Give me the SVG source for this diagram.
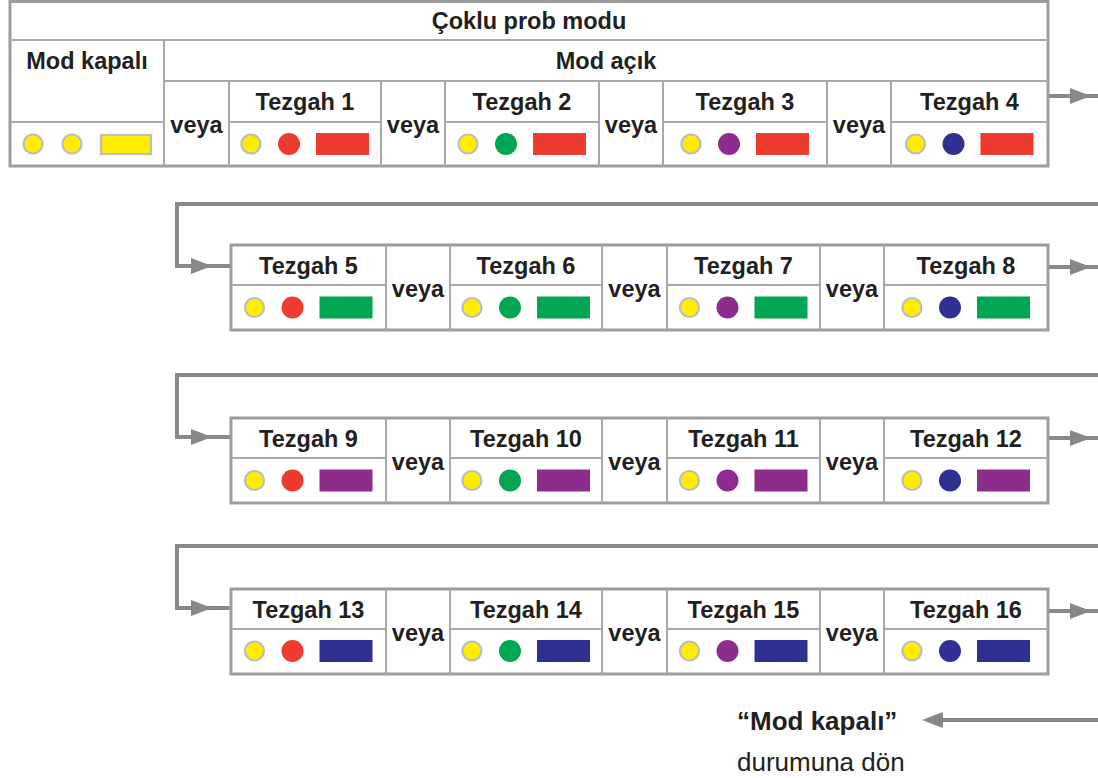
<svg xmlns="http://www.w3.org/2000/svg" xmlns:xlink="http://www.w3.org/1999/xlink" width="1098" height="778" viewBox="0 0 1098 778">
  <style>
    .frame { fill: #ffffff; stroke: #9c9c9c; stroke-width: 3; }
    .grid { fill: none; stroke: #a8a8a8; stroke-width: 2; }
    .lbl { font-family: "Liberation Sans", Arial, Helvetica, sans-serif; font-weight: bold; font-size: 23.5px; fill: #231f20; text-anchor: middle; }
    .note { font-family: "Liberation Sans", Arial, Helvetica, sans-serif; font-size: 26px; fill: #231f20; }
    .note-b { font-weight: bold; }
    .conn { fill: none; stroke: #87888a; stroke-width: 4; }
    .y { fill: #ffed00; stroke: #bdbdbd; stroke-width: 2.2; }
    .r { fill: #ee3b2f; }
    .g { fill: #00a651; }
    .p { fill: #8e2c8e; }
    .b { fill: #2e3192; }
  </style>
  <defs>
    <!-- arrowhead, tip at origin, pointing right -->
    <path id="ah" d="M0 0L-21 -8L-21 8Z" fill="#87888a"/>
    <!-- frame of one 4-station row (rows 2..4), origin at the row top -->
    <g id="rowFrame">
      <rect class="frame" x="231" y="0" width="817" height="85"/>
      <path class="grid" d="M231 40H386M450 40H602M667 40H820M884 40H1048M386 0V85M450 0V85M602 0V85M667 0V85M820 0V85M884 0V85"/>
    </g>
  </defs>

  <rect width="1098" height="778" fill="#ffffff"/>

  <!-- connectors -->
  <g id="connectors">
    <path class="conn" d="M1048 96H1098"/>
    <path class="conn" d="M1098 204H177V266H231"/>
    <path class="conn" d="M1048 267H1098"/>
    <path class="conn" d="M1098 375H177V437H231"/>
    <path class="conn" d="M1048 438H1098"/>
    <path class="conn" d="M1098 546H177V608H232"/>
    <path class="conn" d="M1048 611H1098"/>
    <path class="conn" d="M1098 720H930"/>
    <use xlink:href="#ah" x="1091" y="96"/>
    <use xlink:href="#ah" x="212" y="266"/>
    <use xlink:href="#ah" x="1091" y="267"/>
    <use xlink:href="#ah" x="212" y="437"/>
    <use xlink:href="#ah" x="1091" y="438"/>
    <use xlink:href="#ah" x="212" y="608"/>
    <use xlink:href="#ah" x="1091" y="611"/>
    <use xlink:href="#ah" transform="translate(922 720) rotate(180)"/>
  </g>

  <!-- top table: multi-probe mode -->
  <g id="table-head">
    <rect class="frame" x="10" y="1.5" width="1038" height="164.5"/>
    <path class="grid" d="M10 40H1048M164 81H1048M164 40V166M10 122H164M229 122H381M445 122H599M663 122H827M891 122H1048M229 81V166M381 81V166M445 81V166M599 81V166M663 81V166M827 81V166M891 81V166"/>
    <text class="lbl" x="529" y="29">Çoklu prob modu</text>
    <text class="lbl" x="606" y="69">Mod açık</text>
  </g>

  <g id="mode-off">
    <text class="lbl" x="87" y="69">Mod kapalı</text>
    <circle class="y" cx="33" cy="144" r="9.5"/>
    <circle class="y" cx="72" cy="144" r="9.5"/>
    <rect class="y" x="101" y="135" width="50" height="19"/>
  </g>

  <g id="veya-row1">
    <text class="lbl" x="196.5" y="133">veya</text>
    <text class="lbl" x="413" y="133">veya</text>
    <text class="lbl" x="631" y="133">veya</text>
    <text class="lbl" x="859" y="133">veya</text>
  </g>

  <g id="tezgah-1">
    <text class="lbl" x="305" y="110">Tezgah 1</text>
    <circle class="y" cx="251" cy="144" r="9.5"/>
    <circle class="r" cx="289" cy="144" r="11"/>
    <rect class="r" x="316" y="133" width="53" height="22"/>
  </g>
  <g id="tezgah-2">
    <text class="lbl" x="522" y="110">Tezgah 2</text>
    <circle class="y" cx="468" cy="144" r="9.5"/>
    <circle class="g" cx="506" cy="144" r="11"/>
    <rect class="r" x="533" y="133" width="53" height="22"/>
  </g>
  <g id="tezgah-3">
    <text class="lbl" x="745" y="110">Tezgah 3</text>
    <circle class="y" cx="691" cy="144" r="9.5"/>
    <circle class="p" cx="729" cy="144" r="11"/>
    <rect class="r" x="756" y="133" width="53" height="22"/>
  </g>
  <g id="tezgah-4">
    <text class="lbl" x="969.5" y="110">Tezgah 4</text>
    <circle class="y" cx="915.5" cy="144" r="9.5"/>
    <circle class="b" cx="953.5" cy="144" r="11"/>
    <rect class="r" x="980.5" y="133" width="53" height="22"/>
  </g>

  <!-- row 2 -->
  <use xlink:href="#rowFrame" y="245"/>
  <g id="veya-row2">
    <text class="lbl" x="418" y="297">veya</text>
    <text class="lbl" x="634.5" y="297">veya</text>
    <text class="lbl" x="852" y="297">veya</text>
  </g>
  <g id="tezgah-5">
    <text class="lbl" x="308.5" y="273.5">Tezgah 5</text>
    <circle class="y" cx="254.5" cy="307.5" r="9.5"/>
    <circle class="r" cx="292.5" cy="307.5" r="11"/>
    <rect class="g" x="319.5" y="296.5" width="53" height="22"/>
  </g>
  <g id="tezgah-6">
    <text class="lbl" x="526" y="273.5">Tezgah 6</text>
    <circle class="y" cx="472" cy="307.5" r="9.5"/>
    <circle class="g" cx="510" cy="307.5" r="11"/>
    <rect class="g" x="537" y="296.5" width="53" height="22"/>
  </g>
  <g id="tezgah-7">
    <text class="lbl" x="743.5" y="273.5">Tezgah 7</text>
    <circle class="y" cx="689.5" cy="307.5" r="9.5"/>
    <circle class="p" cx="727.5" cy="307.5" r="11"/>
    <rect class="g" x="754.5" y="296.5" width="53" height="22"/>
  </g>
  <g id="tezgah-8">
    <text class="lbl" x="966" y="273.5">Tezgah 8</text>
    <circle class="y" cx="912" cy="307.5" r="9.5"/>
    <circle class="b" cx="950" cy="307.5" r="11"/>
    <rect class="g" x="977" y="296.5" width="53" height="22"/>
  </g>

  <!-- row 3 -->
  <use xlink:href="#rowFrame" y="418"/>
  <g id="veya-row3">
    <text class="lbl" x="418" y="470">veya</text>
    <text class="lbl" x="634.5" y="470">veya</text>
    <text class="lbl" x="852" y="470">veya</text>
  </g>
  <g id="tezgah-9">
    <text class="lbl" x="308.5" y="446.5">Tezgah 9</text>
    <circle class="y" cx="254.5" cy="480.5" r="9.5"/>
    <circle class="r" cx="292.5" cy="480.5" r="11"/>
    <rect class="p" x="319.5" y="469.5" width="53" height="22"/>
  </g>
  <g id="tezgah-10">
    <text class="lbl" x="526" y="446.5">Tezgah 10</text>
    <circle class="y" cx="472" cy="480.5" r="9.5"/>
    <circle class="g" cx="510" cy="480.5" r="11"/>
    <rect class="p" x="537" y="469.5" width="53" height="22"/>
  </g>
  <g id="tezgah-11">
    <text class="lbl" x="743.5" y="446.5">Tezgah 11</text>
    <circle class="y" cx="689.5" cy="480.5" r="9.5"/>
    <circle class="p" cx="727.5" cy="480.5" r="11"/>
    <rect class="p" x="754.5" y="469.5" width="53" height="22"/>
  </g>
  <g id="tezgah-12">
    <text class="lbl" x="966" y="446.5">Tezgah 12</text>
    <circle class="y" cx="912" cy="480.5" r="9.5"/>
    <circle class="b" cx="950" cy="480.5" r="11"/>
    <rect class="p" x="977" y="469.5" width="53" height="22"/>
  </g>

  <!-- row 4 -->
  <use xlink:href="#rowFrame" y="589"/>
  <g id="veya-row4">
    <text class="lbl" x="418" y="641">veya</text>
    <text class="lbl" x="634.5" y="641">veya</text>
    <text class="lbl" x="852" y="641">veya</text>
  </g>
  <g id="tezgah-13">
    <text class="lbl" x="308.5" y="617.5">Tezgah 13</text>
    <circle class="y" cx="254.5" cy="651" r="9.5"/>
    <circle class="r" cx="292.5" cy="651" r="11"/>
    <rect class="b" x="319.5" y="640" width="53" height="22"/>
  </g>
  <g id="tezgah-14">
    <text class="lbl" x="526" y="617.5">Tezgah 14</text>
    <circle class="y" cx="472" cy="651" r="9.5"/>
    <circle class="g" cx="510" cy="651" r="11"/>
    <rect class="b" x="537" y="640" width="53" height="22"/>
  </g>
  <g id="tezgah-15">
    <text class="lbl" x="743.5" y="617.5">Tezgah 15</text>
    <circle class="y" cx="689.5" cy="651" r="9.5"/>
    <circle class="p" cx="727.5" cy="651" r="11"/>
    <rect class="b" x="754.5" y="640" width="53" height="22"/>
  </g>
  <g id="tezgah-16">
    <text class="lbl" x="966" y="617.5">Tezgah 16</text>
    <circle class="y" cx="912" cy="651" r="9.5"/>
    <circle class="b" cx="950" cy="651" r="11"/>
    <rect class="b" x="977" y="640" width="53" height="22"/>
  </g>

  <!-- return note -->
  <g id="return-note">
    <text class="note note-b" x="737" y="730">“Mod kapalı”</text>
    <text class="note" x="737" y="771">durumuna dön</text>
  </g>
</svg>
